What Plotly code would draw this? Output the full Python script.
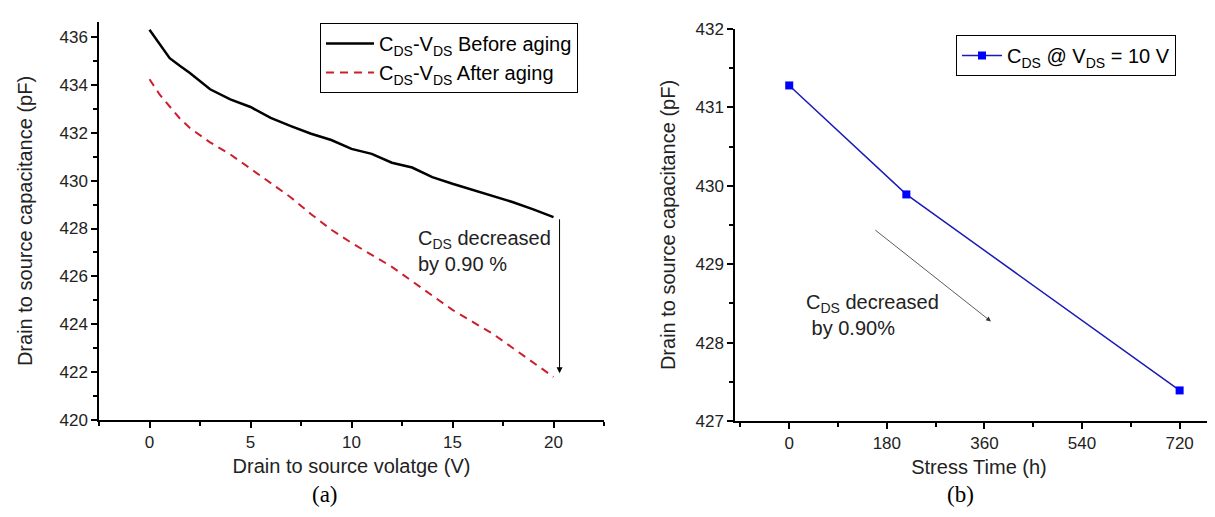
import plotly.graph_objects as go

# (a) C_DS vs V_DS, before / after aging
vds = [0, 0.5, 1, 1.5, 2, 3, 4, 5, 6, 7, 8, 9, 10, 11, 12, 13, 14, 15, 16, 17, 18, 19, 20]
cds_before = [436.31, 435.70, 435.12, 434.80, 434.50, 433.82, 433.40, 433.08, 432.62, 432.28,
              431.96, 431.70, 431.33, 431.12, 430.75, 430.55, 430.15, 429.87, 429.62, 429.36,
              429.10, 428.80, 428.48]
cds_after = [434.24, 433.60, 433.10, 432.60, 432.20, 431.60, 431.10, 430.50, 429.90, 429.30,
             428.60, 427.95, 427.40, 426.90, 426.40, 425.80, 425.20, 424.60, 424.10, 423.60,
             423.00, 422.40, 421.80]

# (b) C_DS @ V_DS = 10 V vs stress time
stress_time = [0, 216, 720]
cds_10v = [431.28, 429.89, 427.39]

FONT = "Liberation Sans, Arial, sans-serif"
SERIF = "Liberation Serif, Times New Roman, serif"
W, H = 1215, 517

fig = go.Figure()

fig.add_trace(go.Scatter(
    x=vds, y=cds_before, mode="lines",
    name="C<sub>DS</sub>-V<sub>DS</sub> Before aging",
    line=dict(color="black", width=2.5),
    xaxis="x", yaxis="y", legend="legend"))
fig.add_trace(go.Scatter(
    x=vds, y=cds_after, mode="lines",
    name="C<sub>DS</sub>-V<sub>DS</sub> After aging",
    line=dict(color="#cc1f2d", width=2, dash="8px,6px"),
    xaxis="x", yaxis="y", legend="legend"))
fig.add_trace(go.Scatter(
    x=stress_time, y=cds_10v, mode="lines+markers",
    name="C<sub>DS</sub> @ V<sub>DS</sub> = 10 V",
    line=dict(color="#1a1ab8", width=1.5),
    marker=dict(symbol="square", size=8, color="#0000ff"),
    xaxis="x2", yaxis="y2", legend="legend2"))


def axis_style(**kw):
    d = dict(showline=True, linecolor="black", linewidth=1.5,
             ticks="outside", ticklen=6, tickwidth=1.5, tickcolor="black",
             showgrid=False, zeroline=False, automargin=False,
             tickfont=dict(family=FONT, size=17, color="#222"),
             minor=dict(ticks="outside", ticklen=4, tickwidth=1.5,
                        tickcolor="black", showgrid=False))
    d.update(kw)
    return d


fig.update_layout(
    width=W, height=H,
    margin=dict(l=0, r=0, t=0, b=0),
    paper_bgcolor="white", plot_bgcolor="white",
    font=dict(family=FONT, size=17, color="#222"),
    xaxis=axis_style(domain=[91 / W, 596 / W], range=[-2.5, 22.5],
                     tick0=0, dtick=5, anchor="y",
                     title=dict(text="Drain to source volatge (V)",
                                font=dict(size=20), standoff=8)),
    yaxis=axis_style(domain=[105 / H, 503 / H], range=[420, 436.63],
                     tick0=420, dtick=2, anchor="x",
                     title=dict(text="Drain to source capacitance (pF)",
                                font=dict(size=20), standoff=21)),
    xaxis2=axis_style(domain=[727 / W, 1.0], range=[-100, 800],
                      tick0=0, dtick=180, anchor="y2",
                      title=dict(text="Stress Time (h)",
                                 font=dict(size=20), standoff=8)),
    yaxis2=axis_style(domain=[104 / H, 496 / H], range=[427, 432],
                      tick0=427, dtick=1, anchor="x2",
                      title=dict(text="Drain to source capacitance (pF)",
                                 font=dict(size=20), standoff=14)),
    legend=dict(x=312 / W, y=1 - 15 / H, xanchor="left", yanchor="top",
                bordercolor="black", borderwidth=1, bgcolor="white",
                itemwidth=48, tracegroupgap=0,
                font=dict(family=FONT, size=20, color="black")),
    legend2=dict(x=948 / W, y=1 - 27 / H, xanchor="left", yanchor="top",
                 bordercolor="black", borderwidth=1, bgcolor="white",
                 itemwidth=40,
                 font=dict(family=FONT, size=20, color="black")),
)
fig.layout.xaxis.minor.dtick = 2.5
fig.layout.yaxis.minor.dtick = 1
fig.layout.xaxis2.minor.dtick = 90
fig.layout.yaxis2.minor.dtick = 0.5

# (a) annotation + arrow
fig.add_annotation(x=13.17, y=427.05, xref="x", yref="y",
                   text="C<sub>DS</sub> decreased<br>by 0.90 %", showarrow=False,
                   xanchor="left", yanchor="middle", align="left",
                   font=dict(family=FONT, size=20, color="#222"))
fig.add_annotation(x=20.3, y=421.95, ax=20.3, ay=428.45,
                   xref="x", yref="y", axref="x", ayref="y",
                   text="", showarrow=True, arrowhead=2, arrowsize=1.2,
                   arrowwidth=1, arrowcolor="black")

# (b) annotation + arrow
fig.add_annotation(x=27.6, y=428.35, xref="x2", yref="y2",
                   text="C<sub>DS</sub> decreased<br> by 0.90%", showarrow=False,
                   xanchor="left", yanchor="middle", align="left",
                   font=dict(family=FONT, size=20, color="#222"))
fig.add_annotation(x=372, y=428.27, ax=156, ay=429.45,
                   xref="x2", yref="y2", axref="x2", ayref="y2",
                   text="", showarrow=True, arrowhead=2, arrowsize=1.2,
                   arrowwidth=0.8, arrowcolor="#333")

# panel labels
fig.add_annotation(x=302 / W, y=1 - 501 / H, xref="paper", yref="paper",
                   text="(a)", showarrow=False,
                   font=dict(family=SERIF, size=23, color="black"))
fig.add_annotation(x=968 / W, y=1 - 501 / H, xref="paper", yref="paper",
                   text="(b)", showarrow=False,
                   font=dict(family=SERIF, size=23, color="black"))

fig.write_html("out.html")
